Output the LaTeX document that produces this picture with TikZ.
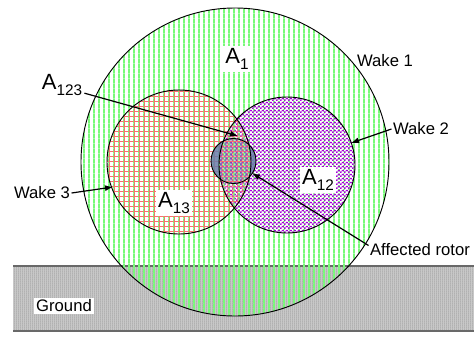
\documentclass[tikz,border=0pt]{standalone}
\usepackage{fontspec}
\setmainfont{Liberation Sans}
\usetikzlibrary{patterns.meta}
\usetikzlibrary{arrows.meta}
\usepackage{xcolor}

\definecolor{wakegreen}{RGB}{120,250,120}
\definecolor{wakered}{RGB}{250,110,110}
\definecolor{wakepurple}{RGB}{165,0,215}
\definecolor{rotorblue}{RGB}{105,125,170}
\definecolor{groundgrey}{RGB}{200,200,200}
\definecolor{groundline}{RGB}{105,105,105}

% patterns of the three wakes and of the ground
\tikzdeclarepattern{name=wakestripes, type=uncolored,
  bounding box={(0pt,0pt) and (3.4pt,3.4pt)}, tile size={(3.4pt,3.4pt)},
  code={\draw[line width=1.5pt] (1.7pt,-0.5pt) -- (1.7pt,3.9pt);}}
\tikzdeclarepattern{name=wakegrid, type=uncolored,
  bounding box={(0pt,0pt) and (3.4pt,3.4pt)}, tile size={(3.4pt,3.4pt)},
  code={\draw[line width=1.5pt] (-0.5pt,0pt) -- (3.9pt,0pt) (0pt,-0.5pt) -- (0pt,3.9pt);}}
\tikzdeclarepattern{name=wakechecks, type=colored,
  bounding box={(0pt,0pt) and (3pt,3pt)}, tile size={(3pt,3pt)},
  code={\fill[wakepurple] (0pt,0pt) rectangle (1.5pt,1.5pt) (1.5pt,1.5pt) rectangle (3pt,3pt);
        \fill[white, opacity=0.8] (0.2pt,1.7pt) rectangle (1.3pt,2.8pt) (1.7pt,0.2pt) rectangle (2.8pt,1.3pt);}}
\tikzdeclarepattern{name=groundlines, type=uncolored,
  bounding box={(0pt,0pt) and (1.2pt,1.2pt)}, tile size={(1.2pt,1.2pt)},
  code={\draw[line width=0.3pt] (0.6pt,-0.2pt) -- (0.6pt,1.4pt);}}

\tikzset{
  wakelabel/.style={font=\fontsize{12.5}{15}\selectfont, inner sep=1pt},
  arealabel/.style={font=\fontsize{16.5}{19}\selectfont, fill=white, inner sep=1.5pt},
  pointer/.style={line width=0.9pt, -{Latex[length=6pt,width=4.5pt]}},
  outline/.style={line width=0.7pt}
}
\newcommand{\areaname}[1]{A\raisebox{-5pt}{\fontsize{11.5}{12}\selectfont #1}}

\begin{document}
\begin{tikzpicture}[x=0.75pt,y=0.75pt,yscale=-1,xscale=1]
\useasboundingbox (0,0) rectangle (474,336);

% Ground
\fill[groundgrey] (13,266) rectangle (474,331);
\fill[pattern=groundlines, pattern color=gray!70] (13,266) rectangle (474,331);
\draw[groundline, line width=1.2pt] (13,266) -- (474,266) (13,331) -- (474,331);

% Wakes
\fill[pattern=wakestripes, pattern color=wakegreen] (235,162) circle [radius=154];
\fill[pattern=wakegrid, pattern color=wakered] (179,162) circle [radius=72];
\fill[pattern=wakechecks] (287,165) circle [radius=68];

% Affected rotor
\fill[rotorblue, opacity=0.85] (233.5,161) circle [radius=22.5];

% A123 over the rotor
\begin{scope}
\clip (287,165) circle [radius=68];
\fill[pattern=wakestripes, pattern color=wakegreen] (179,162) circle [radius=72];
\fill[pattern=wakegrid, pattern color=wakered] (179,162) circle [radius=72];
\fill[pattern=wakechecks, opacity=0.4] (179,162) circle [radius=72];
\end{scope}

% Outlines
\draw[outline] (235,162) circle [radius=154];
\draw[outline] (179,162) circle [radius=72];
\draw[outline] (287,165) circle [radius=68];
\draw[outline] (233.5,161) circle [radius=22.5];

% Arrow tips
\coordinate (lenstip) at (238,136);
\coordinate (waketwoedge) at (351,143);
\coordinate (wakethreeedge) at (113,187);
\coordinate (rotoredge) at (252,173);

% Text Nodes
\node[arealabel] (aone) at (237,59) {\areaname{1}};
\node[arealabel, fill=none] (aonetwothree) at (62,85) {\areaname{123}};
\node[arealabel] (aonethree) at (174,203) {\areaname{13}};
\node[arealabel] (aonetwo) at (318,180) {\areaname{12}};
\node[wakelabel] (wakeonelbl) at (385,61) {Wake 1};
\node[wakelabel] (waketwolbl) at (421,129) {Wake 2};
\node[wakelabel] (wakethreelbl) at (42,193) {Wake 3};
\node[wakelabel] (rotorlbl) at (420,250) {Affected rotor};
\node[wakelabel, fill=white, inner sep=1.5pt] (groundlbl) at (64,306) {Ground};

% Arrows
\draw[pointer] (aonetwothree.-20) -- (lenstip);
\draw[pointer] (waketwolbl.west) -- (waketwoedge);
\draw[pointer] (wakethreelbl.east) -- (wakethreeedge);
\draw[pointer] (rotorlbl.175) -- (rotoredge);

\end{tikzpicture}
\end{document}
